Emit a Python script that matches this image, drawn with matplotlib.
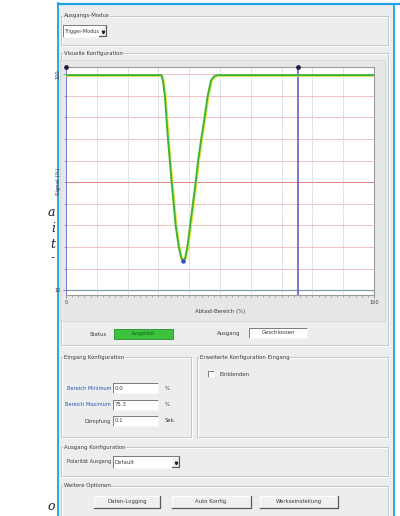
import matplotlib
matplotlib.use('Agg')
import matplotlib.pyplot as plt
from matplotlib.patches import Rectangle
from matplotlib import transforms

# signal curve (Abtast-Bereich %, Signal %)
scan_pos = [0, 31.0, 31.5, 32.1, 33.1, 34.3, 35.6, 36.6, 37.4, 38.0, 38.7,
            39.4, 40.3, 42.1, 42.9, 43.9, 45.0, 46.0, 47.1, 48.2, 49.2, 100]
signal = [99.6, 99.6, 97.0, 91, 73, 55, 37, 28, 23.5, 22, 23.5,
          28, 37, 55, 64, 73, 82, 91, 97.5, 99.2, 99.6, 99.6]

grid_y = [19, 28, 37, 46, 64, 73, 82, 91, 100]
grid_x = [10, 20, 30, 40, 50, 60, 70, 80, 90]
threshold = 55
range_min = 0.0
range_max = 75.3
damping = 0.1
y_ticks = [10, 100]
y_tick_labels = ['10', '100']
x_ticks = [0, 100]
x_tick_labels = ['0', '100']

panel_bg = '#eceeee'
txt = '#3c3c3c'
font = 'DejaVu Sans'
fs = 3.9

fig = plt.figure(figsize=(4.0, 5.16), dpi=100)
fig.patch.set_facecolor('white')

ui = fig.add_axes([0, 0, 1, 1])
ui.set_xlim(0, 400)
ui.set_ylim(516, 0)
ui.axis('off')


def rect(x0, y0, x1, y1, fc='none', ec='none', lw=0.6, z=1):
    ui.add_patch(Rectangle((x0, y0), x1 - x0, y1 - y0, facecolor=fc,
                           edgecolor=ec, linewidth=lw, zorder=z))


def label(x, y, s, ha='left', color=txt, size=fs, z=5, **kw):
    ui.text(x, y, s, ha=ha, va='center', color=color, fontsize=size,
            family=font, zorder=z, **kw)


def group(x0, y0, x1, y1, title):
    rect(x0 + 0.8, y0 + 0.8, x1 + 0.8, y1 + 0.8, ec='white', lw=0.7, z=2)
    rect(x0, y0, x1, y1, ec='#c4c6c6', lw=0.7, z=2)
    ui.text(x0 + 3, y0, title, ha='left', va='center', color=txt,
            fontsize=fs, family=font, zorder=4,
            bbox=dict(boxstyle='square,pad=0.1', fc=panel_bg, ec='none'))


def sunken(x0, y0, x1, y1, fc='white'):
    rect(x0, y0, x1, y1, fc=fc, z=3)
    ui.plot([x0, x0, x1], [y1, y0, y0], color='#7a7a7a', lw=0.7, zorder=4)
    ui.plot([x0, x1, x1], [y1, y1, y0], color='#f8f8f8', lw=0.6, zorder=4)


def raised(x0, y0, x1, y1, s):
    rect(x0, y0, x1, y1, fc='#f0f0f0', z=3)
    ui.plot([x0, x0, x1], [y1, y0, y0], color='white', lw=0.7, zorder=4)
    ui.plot([x0, x1, x1], [y1, y1, y0], color='#5a5a5a', lw=0.9, zorder=4)
    label((x0 + x1) / 2, (y0 + y1) / 2, s, ha='center')


def combo(x0, y0, x1, y1, s, size=fs):
    sunken(x0, y0, x1, y1)
    label(x0 + 1.5, (y0 + y1) / 2, s, size=size)
    raised(x1 - 8, y0 + 1, x1 - 1, y1 - 1, '')
    ui.plot([x1 - 4.5], [(y0 + y1) / 2 + 0.5], marker='v', ms=1.8,
            color='#202020', zorder=5)


# page frame and screenshot panel
rect(58, 5, 393, 516, fc=panel_bg, z=0)
ui.plot([57.5, 57.5], [3, 516], color='#1ea0e6', lw=1.3, zorder=6)
ui.plot([57.5, 400], [4, 4], color='#1ea0e6', lw=1.6, zorder=6)
ui.plot([393.5, 393.5], [4, 516], color='#1ea0e6', lw=1.3, zorder=6)

# italic text fragments of the magazine column
for s, y in [('a', 213), ('i', 229), ('t', 244), ('-', 258), ('o', 507)]:
    ui.text(55, y, s, ha='right', va='center', fontsize=9, color='#222222',
            family='DejaVu Serif', style='italic')

group(61, 16, 388, 45, 'Ausgangs-Modus')
combo(63, 25, 107, 37, 'Trigger-Modus', size=3.6)

group(61, 53, 388, 345, 'Visuelle Konfiguration')
rect(60, 60, 385, 321, fc='#e6e8e8', ec='#cfd1d1', lw=0.5, z=2)

label(98, 334, 'Status', ha='center')
rect(114, 329, 173, 339, fc='#3cc23c', ec='#2a8a2a', lw=0.6, z=3)
label(143.5, 334, 'Ausgelöst', ha='center', color='#1c5e1c', size=3.6)
label(229, 334, 'Ausgang', ha='center')
sunken(249, 328, 307, 338)
label(278, 333, 'Geschlossen', ha='center')

group(61, 357, 191, 437, 'Eingang Konfiguration')
rows = [('Bereich Minimum', f'{range_min:.1f}', '%', '#2f4fb0', 388),
        ('Bereich Maximum', f'{range_max:.1f}', '%', '#2f4fb0', 405),
        ('Dämpfung', f'{damping:.1f}', 'Sek.', txt, 421)]
for name, val, unit, col, y in rows:
    label(111, y, name, ha='right', color=col, size=3.6)
    sunken(113, y - 5, 158, y + 5)
    label(115, y, val)
    label(165, y, unit)

group(197, 357, 388, 437, 'Erweiterte Konfiguration Eingang')
sunken(208, 371, 214, 377)
label(219, 374, 'Einblenden')

group(61, 447, 388, 476, 'Ausgang Konfiguration')
label(111, 462, 'Polarität Ausgang', ha='right', size=3.6)
combo(113, 456, 180, 468, 'Default')

group(61, 486, 388, 520, 'Weitere Optionen')
raised(94, 496, 160, 508, 'Daten-Logging')
raised(172, 496, 251, 508, 'Auto Konfig.')
raised(260, 496, 338, 508, 'Werkseinstellung')

# chart
ax = fig.add_axes([66 / 400, 1 - 295 / 516, 308 / 400, 228 / 516])
ax.set_facecolor('white')
ax.set_xlim(0, 100)
ax.set_ylim(8, 103)
for v in grid_y:
    ax.axhline(v, color='#ecb8b8', lw=0.6, zorder=1)
ax.axhline(threshold, color='#e08080', lw=0.7, zorder=1)
ax.axhline(y_ticks[0], color='#7f9cb0', lw=0.9, zorder=1)
for v in grid_x:
    ax.axvline(v, color='#a9bccb', lw=0.5, ls=(0, (2, 1.5)), zorder=1)

for v in [range_min, range_max]:
    ax.axvline(v, color='#5353c6', lw=1.1, zorder=3)
ax.plot([range_min, range_max], [103, 103], 'o', ms=2.4, color='#1e1e3c',
        clip_on=False, zorder=6)

shift = transforms.offset_copy(ax.transData, fig=fig, x=0.6, y=-0.4,
                               units='points')
ax.plot(scan_pos, signal, color='#e8e840', lw=1.6, transform=shift, zorder=4)
ax.plot(scan_pos, signal, color='#3cb43c', lw=1.4, zorder=5)
i_min = signal.index(min(signal))
ax.plot([scan_pos[i_min]], [signal[i_min]], 'o', ms=2.2, color='#3050b0',
        zorder=6)

for sp in ax.spines.values():
    sp.set_color('#9a9a9a')
    sp.set_linewidth(0.8)
ax.spines['left'].set_visible(False)

ax.set_xticks(x_ticks)
ax.set_xticklabels(x_tick_labels, fontsize=3.6, color=txt, family=font)
ax.set_xticks(range(0, 101, 2), minor=True)
ax.set_yticks(y_ticks)
ax.set_yticklabels(y_tick_labels, fontsize=3.6, color=txt, family=font)
ax.set_yticks(grid_y + [threshold], minor=True)
ax.tick_params(axis='both', which='major', length=2.5, width=0.5,
               color='#707070', pad=1.2)
ax.tick_params(axis='both', which='minor', length=1.5, width=0.4,
               color='#707070')
ax.get_yticklabels()[1].set_rotation(90)
ax.get_yticklabels()[1].set_va('center')

ax.set_xlabel('Abtast-Bereich (%)', fontsize=fs, color=txt, family=font,
              labelpad=3)
ax.set_ylabel('Signal (%)', fontsize=fs, color=txt, family=font)
ax.yaxis.set_label_coords(-0.016, 0.5)

fig.savefig('out.png', dpi=100)
